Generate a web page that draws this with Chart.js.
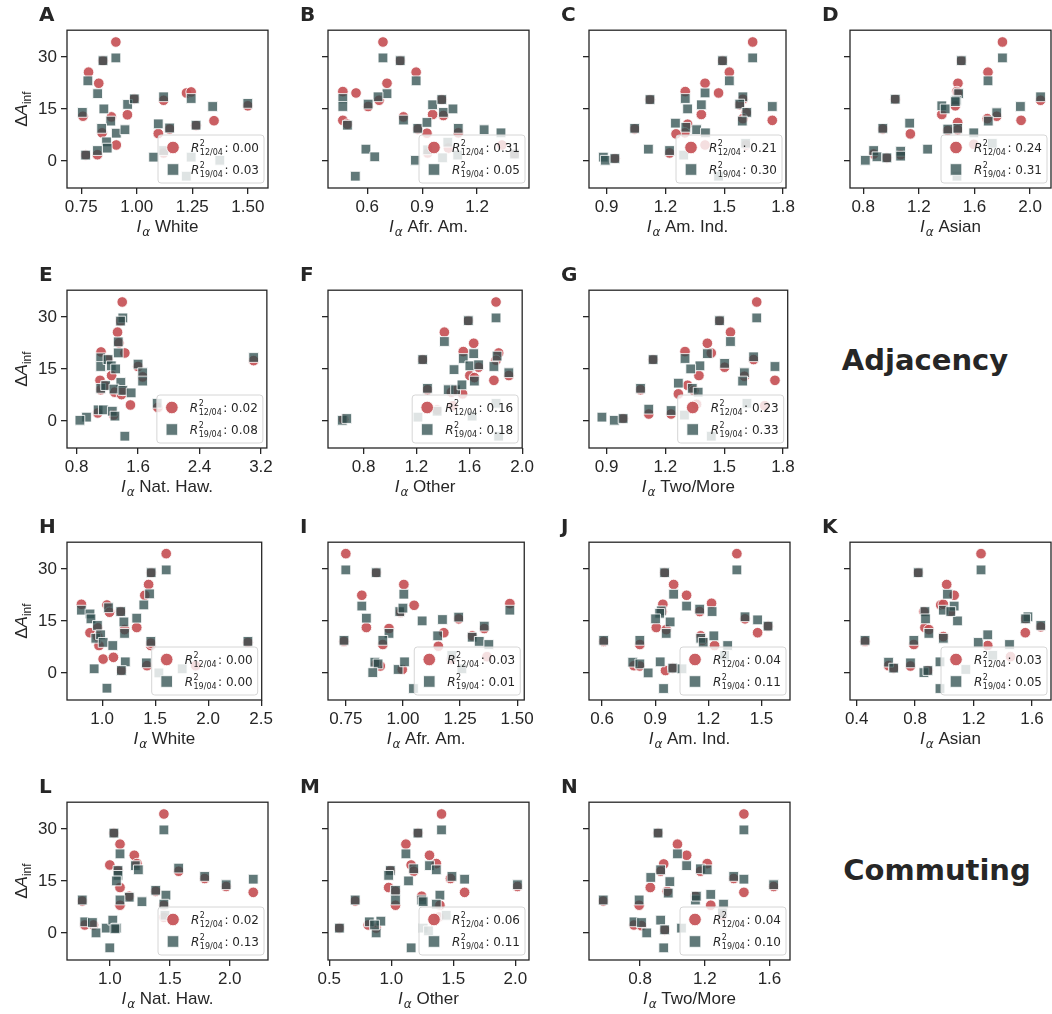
<!DOCTYPE html>
<html>
<head>
<meta charset="utf-8">
<script src="https://cdn.jsdelivr.net/npm/chart.js@4.4.1/dist/chart.umd.min.js"></script>
<style>
  body { margin: 0; width: 1052px; height: 1014px; overflow: hidden; background: #fff; position: relative; }
  canvas { position: absolute; }
  .lab { position: absolute; font: bold 20px "DejaVu Sans"; color: #262626; line-height: 20px; }
  .big { position: absolute; font: bold 29px "DejaVu Sans"; color: #262626; transform: translate(-50%, -50%); white-space: nowrap; }
</style>
</head>
<body>
<script>
// circles = 12/04, squares = 19/04, each point [I_alpha, dA_inf]
const aR = [[0.906,34.3],[0.848,28.9],[0.783,25.6],[0.829,22.4],[0.758,12.9],[0.886,12.7],[0.958,13.3],[0.908,4.6],[0.844,8.1],[0.823,1.8],[0.770,1.7],[1.097,7.9],[1.121,17.5],[1.121,2.3],[1.224,19.6],[1.245,19.9],[1.267,10.2],[1.348,11.6],[1.500,15.9],[0.989,17.9],[1.148,9.2]];
const aS = [[0.906,29.7],[0.848,28.9],[0.780,23.1],[0.824,19.4],[0.755,14.0],[0.852,15.0],[0.883,11.5],[0.959,16.3],[0.989,17.9],[0.842,9.4],[0.864,5.5],[0.867,3.7],[0.823,3.0],[0.770,1.7],[0.908,8.0],[0.947,9.0],[1.097,10.7],[1.121,18.5],[1.121,3.0],[1.076,1.1],[1.148,9.5],[1.245,18.0],[1.267,10.3],[1.342,15.7],[1.500,16.6],[1.245,1.1],[1.374,0.2],[1.223,-4.4]];

const bR = [[0.686,34.3],[0.780,28.9],[0.867,25.6],[0.708,22.4],[0.467,20.0],[0.539,19.6],[0.665,17.5],[0.605,15.7],[0.467,11.7],[0.492,10.6],[0.798,12.7],[0.876,9.2],[0.926,8.0],[0.957,13.4],[1.007,17.7],[1.016,13.1],[1.097,8.1],[0.930,2.3],[1.043,3.7],[1.335,4.6],[1.404,2.0]];
const bS = [[0.686,29.7],[0.780,28.9],[0.867,23.1],[0.708,19.4],[0.467,18.0],[0.467,15.7],[0.659,18.5],[0.605,16.4],[0.492,10.3],[0.798,11.8],[0.876,9.4],[0.926,11.1],[0.957,16.2],[1.007,17.7],[1.016,14.0],[1.068,15.0],[1.097,9.4],[1.238,9.0],[1.330,8.1],[0.593,3.4],[0.641,1.2],[0.535,-4.4],[0.863,0.2],[0.930,3.2],[1.040,5.4],[1.011,0.9],[1.094,1.7],[1.404,2.0]];

const cR = [[1.645,34.3],[1.491,28.9],[1.526,25.6],[1.402,22.4],[1.301,20.0],[1.471,19.6],[1.121,17.7],[1.595,17.8],[1.579,16.2],[1.383,13.4],[1.612,13.9],[1.595,12.2],[1.745,11.7],[1.043,9.2],[1.313,10.6],[1.299,8.1],[1.254,7.8],[1.221,2.3],[0.942,0.7],[1.402,4.6],[1.612,4.6]];
const cS = [[1.645,29.7],[1.491,28.9],[1.526,23.1],[1.402,19.6],[1.301,18.0],[1.121,17.7],[1.383,16.2],[1.595,18.5],[1.579,16.4],[1.313,15.0],[1.745,15.7],[1.615,14.0],[1.592,11.5],[1.251,10.9],[1.304,9.7],[1.359,9.0],[1.404,8.1],[1.043,9.4],[1.113,3.4],[1.221,3.0],[0.883,1.1],[0.893,0.2],[0.942,0.7],[1.293,1.7],[1.471,-4.4],[1.609,5.1]];

const dR = [[1.801,34.3],[1.505,28.9],[1.697,25.6],[1.481,22.4],[1.474,20.0],[1.479,19.6],[1.030,17.8],[2.075,17.5],[1.462,15.9],[1.365,13.4],[1.760,12.9],[1.692,12.2],[1.935,11.7],[0.941,9.2],[1.479,11.1],[1.479,9.0],[1.408,8.8],[1.139,7.8],[1.069,1.8],[0.875,2.0],[0.970,0.9],[1.595,4.8]];
const dS = [[1.801,29.7],[1.505,28.9],[1.697,23.1],[1.486,19.4],[1.469,17.5],[1.030,17.8],[2.075,18.5],[1.365,15.9],[1.389,15.0],[1.462,17.1],[1.760,13.9],[1.699,11.5],[1.930,15.7],[0.941,9.4],[1.134,10.9],[1.479,9.4],[1.408,9.2],[1.595,8.1],[1.263,3.4],[1.069,2.8],[1.069,1.4],[0.875,3.0],[0.899,1.2],[0.970,0.9],[0.815,0.2],[1.728,5.1],[1.474,-4.4]];

const eR = [[1.394,34.3],[1.372,28.8],[1.333,25.6],[1.351,22.5],[1.118,19.9],[1.428,19.6],[1.209,17.7],[1.600,15.7],[1.256,13.1],[1.660,12.7],[1.105,11.7],[1.114,9.0],[1.170,10.2],[1.295,8.3],[1.385,7.6],[1.402,8.8],[1.501,4.6],[1.075,2.3],[1.282,1.7],[3.105,17.4],[1.858,3.9]];
const eS = [[1.402,29.7],[1.372,28.8],[1.342,22.8],[1.342,19.6],[1.114,18.2],[1.114,15.7],[1.209,17.7],[1.252,15.9],[1.308,15.0],[1.600,16.4],[1.660,13.9],[1.660,11.5],[1.376,11.1],[1.114,9.4],[1.178,10.2],[1.286,9.2],[1.402,8.8],[1.510,8.1],[1.080,3.2],[1.148,3.2],[1.265,2.8],[1.299,1.4],[0.929,1.1],[0.843,0.2],[1.428,-4.4],[3.105,18.3],[1.849,5.1]];

const fR = [[1.802,34.3],[1.592,28.9],[1.411,25.6],[1.633,22.4],[1.554,20.0],[1.822,19.6],[1.247,17.7],[1.802,17.5],[1.670,15.5],[1.604,13.1],[1.638,12.5],[1.899,13.1],[1.786,11.7],[1.283,9.0],[1.464,8.3],[1.496,8.8],[1.549,7.8],[1.476,4.4],[0.648,0.5],[1.356,3.2]];
const fS = [[1.802,29.7],[1.592,28.9],[1.411,22.9],[1.633,19.4],[1.554,18.0],[1.810,18.7],[1.247,17.7],[1.604,15.9],[1.670,16.2],[1.484,14.8],[1.786,15.7],[1.899,13.9],[1.638,11.5],[1.283,9.4],[1.440,9.0],[1.496,9.0],[1.544,10.4],[0.638,0.2],[0.672,0.7],[1.211,1.1],[1.356,2.8],[1.802,5.1],[1.822,-4.4],[1.621,1.4]];

const gR = [[1.666,34.3],[1.476,28.9],[1.532,25.6],[1.414,22.4],[1.300,20.0],[1.434,19.6],[1.137,17.7],[1.650,17.7],[1.502,15.5],[1.371,13.1],[1.603,12.9],[1.759,11.7],[1.073,9.0],[1.313,10.3],[1.266,7.8],[1.345,8.8],[1.115,2.0],[1.229,2.0],[0.984,0.7],[1.359,4.8],[1.707,4.4]];
const gS = [[1.666,29.7],[1.476,28.9],[1.532,22.9],[1.414,19.4],[1.300,18.0],[1.137,17.7],[1.376,15.9],[1.502,16.6],[1.650,18.5],[1.329,15.0],[1.759,15.7],[1.603,13.9],[1.594,11.5],[1.266,10.9],[1.337,9.4],[1.367,8.3],[1.073,9.4],[1.115,3.4],[1.229,3.0],[0.876,1.1],[0.939,0.2],[0.984,0.7],[1.297,1.7],[1.434,-4.4],[1.616,5.1]];

const hR = [[1.604,34.4],[1.462,28.9],[1.438,25.5],[1.402,22.4],[0.804,19.8],[1.045,19.6],[1.069,17.5],[1.175,17.7],[1.326,13.1],[0.958,13.0],[0.885,11.6],[1.211,12.5],[0.970,7.9],[1.009,4.0],[1.106,4.5],[1.459,7.9],[1.459,8.6],[1.423,2.1],[1.181,0.7],[1.882,2.1],[2.375,8.8],[0.958,10.5]];
const hS = [[1.604,29.7],[1.462,28.9],[1.447,22.8],[1.393,19.6],[0.804,18.1],[1.060,18.8],[1.175,17.7],[0.885,17.0],[0.894,15.6],[0.955,13.7],[1.205,14.7],[1.326,15.8],[1.211,11.4],[0.940,10.0],[0.985,11.0],[1.009,8.8],[1.100,7.9],[1.459,9.1],[1.417,2.9],[1.218,3.2],[0.924,1.2],[1.181,0.7],[1.045,-4.4],[1.535,0.0],[1.755,1.2],[2.375,9.1]];

const iR = [[0.750,34.4],[0.883,28.9],[1.004,25.5],[0.820,22.4],[1.049,19.5],[0.990,17.5],[0.840,13.1],[0.939,12.8],[0.742,9.1],[0.912,8.2],[1.179,11.6],[1.155,7.7],[1.244,15.6],[1.303,10.7],[1.356,12.8],[1.368,4.7],[1.468,20.0],[0.901,2.0],[0.883,2.6],[1.211,4.0],[0.997,1.0]];
const iS = [[0.750,29.7],[0.883,28.9],[1.004,22.7],[0.820,19.3],[0.840,15.8],[0.986,17.7],[1.000,18.7],[1.084,15.0],[0.939,11.4],[0.912,9.4],[0.742,9.4],[1.173,15.4],[1.244,16.1],[1.152,10.7],[1.303,10.3],[1.334,9.1],[1.356,13.5],[1.376,8.2],[1.468,18.1],[0.877,3.1],[0.891,2.6],[0.868,0.1],[0.979,1.0],[1.007,3.2],[1.046,-4.5],[1.214,5.1],[1.258,1.2]];

const jR = [[1.361,34.4],[0.953,28.9],[1.004,25.5],[1.077,22.4],[0.943,19.8],[1.218,20.1],[0.938,17.7],[1.151,17.7],[1.407,15.6],[1.478,11.6],[0.906,13.1],[0.962,12.5],[1.157,10.7],[1.235,7.9],[0.609,9.1],[0.813,8.2],[0.780,2.1],[0.813,2.0],[0.958,0.7],[0.999,1.4],[1.537,13.5],[1.166,9.4]];
const jS = [[1.361,29.7],[0.953,28.9],[1.004,22.7],[1.077,19.3],[0.934,17.9],[0.925,17.2],[1.151,18.4],[1.221,17.7],[1.407,16.2],[1.478,15.3],[0.902,15.6],[0.984,14.7],[0.962,11.4],[0.609,9.4],[0.813,9.4],[1.157,10.0],[1.171,8.8],[1.231,10.7],[1.309,7.9],[1.537,13.5],[0.773,3.1],[0.813,2.6],[0.860,0.0],[0.928,3.2],[0.947,-4.5],[0.999,1.4],[1.051,1.2],[1.292,5.1]];

const kR = [[1.251,34.4],[0.821,28.9],[1.016,25.5],[1.067,22.4],[0.975,19.6],[0.993,19.8],[0.860,17.7],[1.044,17.7],[1.556,15.6],[1.554,11.6],[0.867,13.1],[0.894,12.5],[0.993,10.5],[1.297,7.9],[0.457,9.1],[0.791,8.2],[0.618,2.1],[0.653,1.4],[0.768,2.0],[0.887,0.7],[1.660,13.3],[1.453,4.7]];
const kS = [[1.251,29.7],[0.821,28.9],[1.021,22.7],[1.067,19.3],[0.993,18.1],[0.867,17.7],[0.871,15.6],[1.090,15.0],[1.044,17.7],[1.572,16.2],[1.556,15.6],[1.660,13.7],[0.894,11.4],[0.993,10.0],[0.791,9.4],[0.457,9.4],[1.232,8.8],[1.297,11.0],[1.446,8.2],[0.618,3.1],[0.653,1.4],[0.768,2.9],[0.860,0.1],[0.887,0.7],[0.970,3.2],[0.970,-4.5],[1.331,5.1],[1.147,1.0]];

const lR = [[1.451,34.3],[1.034,28.8],[1.085,25.6],[1.204,22.4],[1.000,19.6],[1.226,20.0],[1.068,18.0],[1.574,17.8],[1.791,15.7],[2.196,11.7],[1.085,13.1],[1.162,10.6],[1.383,12.0],[1.970,13.4],[1.451,8.0],[0.770,9.2],[1.085,8.0],[0.791,2.3],[0.864,2.3],[1.043,1.2],[1.451,4.5]];
const lS = [[1.451,29.7],[1.034,28.8],[1.085,22.8],[1.213,19.4],[1.238,18.2],[1.068,18.0],[1.068,16.6],[1.055,15.0],[1.574,18.7],[1.791,16.3],[2.196,15.5],[1.970,13.9],[1.383,12.3],[1.268,9.0],[1.162,10.3],[1.085,9.5],[0.770,9.5],[1.468,10.9],[1.451,8.3],[0.791,3.2],[0.855,3.0],[0.885,0.0],[0.970,1.4],[1.025,3.7],[1.055,1.4],[1.000,-4.3],[1.043,1.2],[1.460,5.1]];

const mR = [[1.405,34.3],[1.215,28.8],[1.118,25.6],[1.308,22.4],[1.160,19.6],[1.363,20.0],[0.992,18.0],[1.181,17.8],[1.477,15.7],[1.591,11.7],[0.979,13.1],[1.034,12.0],[1.245,10.6],[0.709,9.2],[1.034,8.0],[1.392,8.0],[0.814,2.3],[0.582,1.4],[0.878,1.4],[2.017,13.4],[1.384,4.6]];
const mS = [[1.405,29.7],[1.215,28.8],[1.118,22.8],[1.308,19.4],[1.181,18.5],[0.992,18.0],[0.979,16.6],[1.139,15.0],[1.363,18.2],[1.489,16.3],[1.591,15.5],[2.017,13.9],[1.034,12.3],[1.245,9.5],[1.257,9.0],[1.034,9.5],[0.709,9.5],[1.392,10.9],[1.363,8.3],[0.823,3.2],[0.916,3.4],[0.878,0.0],[0.865,2.3],[0.582,1.4],[1.257,1.4],[1.300,0.6],[1.160,-4.3],[1.443,5.1]];

const nR = [[1.442,34.3],[0.911,28.8],[1.031,25.6],[1.088,22.4],[0.946,19.9],[1.215,20.0],[0.927,17.8],[1.173,17.8],[1.379,15.7],[1.442,11.7],[0.863,13.1],[0.968,12.0],[1.142,10.6],[1.237,8.0],[0.572,9.2],[0.794,8.0],[0.762,2.3],[0.809,2.1],[0.952,0.9],[1.626,13.4],[1.309,5.1]];
const nS = [[1.442,29.7],[0.911,28.8],[1.031,22.8],[1.088,19.4],[0.927,18.2],[1.173,18.5],[1.215,18.2],[0.866,16.0],[0.984,14.8],[1.379,16.3],[1.442,15.5],[1.626,13.9],[0.974,11.5],[1.142,9.5],[1.148,10.6],[1.237,11.1],[1.316,8.3],[0.794,9.5],[0.572,9.5],[0.762,3.2],[0.809,3.0],[0.841,0.0],[0.927,3.7],[0.946,-4.3],[0.952,0.9],[1.056,1.4],[1.309,5.8]];

const yTicks = [0, 15, 30];

const panels = [
  { id: 'A', name: 'White',     r: aR, s: aS, min: 0.686, max: 1.591, ticks: [0.75, 1.00, 1.25, 1.50], dec: 2, r2: ['0.00', '0.03'] },
  { id: 'B', name: 'Afr. Am.',  r: bR, s: bS, min: 0.386, max: 1.483, ticks: [0.6, 0.9, 1.2], dec: 1, r2: ['0.31', '0.05'] },
  { id: 'C', name: 'Am. Ind.',  r: cR, s: cS, min: 0.81,  max: 1.815, ticks: [0.9, 1.2, 1.5, 1.8], dec: 1, r2: ['0.21', '0.30'] },
  { id: 'D', name: 'Asian',     r: dR, s: dS, min: 0.705, max: 2.15,  ticks: [0.8, 1.2, 1.6, 2.0], dec: 1, r2: ['0.24', '0.31'] },
  { id: 'E', name: 'Nat. Haw.', r: eR, s: eS, min: 0.675, max: 3.277, ticks: [0.8, 1.6, 2.4, 3.2], dec: 1, r2: ['0.02', '0.08'] },
  { id: 'F', name: 'Other',     r: fR, s: fS, min: 0.53,  max: 2.0,   ticks: [0.8, 1.2, 1.6, 2.0], dec: 1, r2: ['0.16', '0.18'] },
  { id: 'G', name: 'Two/More',  r: gR, s: gS, min: 0.81,  max: 1.824, ticks: [0.9, 1.2, 1.5, 1.8], dec: 1, r2: ['0.23', '0.33'] },
  { id: 'H', name: 'White',     r: hR, s: hS, min: 0.668, max: 2.505, ticks: [1.0, 1.5, 2.0, 2.5], dec: 1, r2: ['0.00', '0.00'] },
  { id: 'I', name: 'Afr. Am.',  r: iR, s: iS, min: 0.672, max: 1.531, ticks: [0.75, 1.00, 1.25, 1.50], dec: 2, r2: ['0.03', '0.01'] },
  { id: 'J', name: 'Am. Ind.',  r: jR, s: jS, min: 0.526, max: 1.661, ticks: [0.6, 0.9, 1.2, 1.5], dec: 1, r2: ['0.04', '0.11'] },
  { id: 'K', name: 'Asian',     r: kR, s: kS, min: 0.354, max: 1.73,  ticks: [0.4, 0.8, 1.2, 1.6], dec: 1, r2: ['0.03', '0.05'] },
  { id: 'L', name: 'Nat. Haw.', r: lR, s: lS, min: 0.643, max: 2.319, ticks: [1.0, 1.5, 2.0], dec: 1, r2: ['0.02', '0.13'] },
  { id: 'M', name: 'Other',     r: mR, s: mS, min: 0.49,  max: 2.11,  ticks: [0.5, 1.0, 1.5, 2.0], dec: 1, r2: ['0.06', '0.11'] },
  { id: 'N', name: 'Two/More',  r: nR, s: nS, min: 0.484, max: 1.727, ticks: [0.8, 1.2, 1.6], dec: 1, r2: ['0.04', '0.10'] }
];

// grid placement of the panels (row, col)
const place = [[0,0],[0,1],[0,2],[0,3],[1,0],[1,1],[1,2],[2,0],[2,1],[2,2],[2,3],[3,0],[3,1],[3,2]];
const colLeft = [67, 328, 589, 850];
const rowTop = [24, 284, 536, 796];
const boxW = 201, boxH = 164;
const padT = 8, padR = 8, yW = 64, xH = 56;

const ink = '#262626';
const redFill = 'rgba(196,78,82,0.9)';
const greyFill = 'rgba(47,79,79,0.76)';
const edge = 'rgba(255,255,255,0.85)';
const tickFont = '"Liberation Sans", Arial, sans-serif';
const mathFont = '"DejaVu Sans", sans-serif';

function toXY(arr) {
  return arr.map(p => ({ x: p[0], y: p[1] }));
}

function drawMarker(ctx, type, x, y) {
  ctx.save();
  ctx.lineWidth = 1;
  ctx.strokeStyle = edge;
  if (type === 'circle') {
    ctx.fillStyle = redFill;
    ctx.beginPath();
    ctx.arc(x, y, 6.3, 0, Math.PI * 2);
    ctx.fill();
    ctx.stroke();
  } else {
    ctx.fillStyle = greyFill;
    ctx.fillRect(x - 5.8, y - 5.8, 11.6, 11.6);
    ctx.strokeRect(x - 5.8, y - 5.8, 11.6, 11.6);
  }
  ctx.restore();
}

function drawR2(ctx, x, y, sub, val) {
  ctx.fillStyle = ink;
  ctx.textBaseline = 'alphabetic';
  ctx.textAlign = 'left';
  ctx.font = 'italic 12px ' + mathFont;
  ctx.fillText('R', x, y);
  const w = ctx.measureText('R').width;
  ctx.font = '8px ' + mathFont;
  ctx.fillText('2', x + w + 0.5, y - 5.5);
  ctx.fillText(sub, x + w + 0.5, y + 3);
  const sw = ctx.measureText(sub).width;
  ctx.font = '12px ' + mathFont;
  ctx.fillText(': ' + val, x + w + sw + 2, y);
}

const decorPlugin = {
  id: 'decor',
  afterDatasetsDraw(chart, args, opts) {
    const ctx = chart.ctx;
    const a = chart.chartArea;
    // legend box
    const lw = 106, lh = 48;
    const lx = a.right - 4 - lw, ly = a.bottom - 5 - lh;
    ctx.save();
    ctx.beginPath();
    ctx.roundRect(lx, ly, lw, lh, 3);
    ctx.fillStyle = 'rgba(255,255,255,0.8)';
    ctx.fill();
    ctx.strokeStyle = '#d6d6d6';
    ctx.lineWidth = 1;
    ctx.stroke();
    drawMarker(ctx, 'circle', lx + 15, ly + 12.5);
    drawMarker(ctx, 'rect', lx + 15, ly + 34.5);
    drawR2(ctx, lx + 33, ly + 16.5, '12/04', opts.r2[0]);
    drawR2(ctx, lx + 33, ly + 38.5, '19/04', opts.r2[1]);
    ctx.restore();
  },
  afterDraw(chart, args, opts) {
    const ctx = chart.ctx;
    const a = chart.chartArea;
    ctx.save();
    ctx.strokeStyle = ink;
    ctx.lineWidth = 1.3;
    ctx.strokeRect(a.left, a.top, a.right - a.left, a.bottom - a.top);

    // x label: I_alpha <name>
    ctx.fillStyle = ink;
    ctx.textBaseline = 'alphabetic';
    ctx.textAlign = 'left';
    ctx.font = 'italic 17px ' + tickFont;
    const wI = ctx.measureText('I').width;
    ctx.font = 'italic 12px ' + mathFont;
    const wA = ctx.measureText('α').width;
    ctx.font = '17px ' + tickFont;
    const wN = ctx.measureText(' ' + opts.name).width;
    let x = (a.left + a.right) / 2 - (wI + wA + 1 + wN) / 2;
    const y = a.bottom + 44;
    ctx.font = 'italic 17px ' + tickFont;
    ctx.fillText('I', x, y);
    x += wI + 1;
    ctx.font = 'italic 12px ' + mathFont;
    ctx.fillText('α', x, y + 4);
    x += wA;
    ctx.font = '17px ' + tickFont;
    ctx.fillText(' ' + opts.name, x, y);

    // y label on the first column
    if (opts.first) {
      ctx.translate(24, (a.top + a.bottom) / 2);
      ctx.rotate(-Math.PI / 2);
      ctx.font = '17px ' + tickFont;
      const w1 = ctx.measureText('Δ').width;
      ctx.font = 'italic 17px ' + tickFont;
      const w2 = ctx.measureText('A').width;
      ctx.font = '12px ' + tickFont;
      const w3 = ctx.measureText('inf').width;
      let yx = -(w1 + w2 + w3) / 2;
      ctx.font = '17px ' + tickFont;
      ctx.fillText('Δ', yx, 0);
      yx += w1;
      ctx.font = 'italic 17px ' + tickFont;
      ctx.fillText('A', yx, 0);
      yx += w2;
      ctx.font = '12px ' + tickFont;
      ctx.fillText('inf', yx, 4);
    }
    ctx.restore();
  }
};

panels.forEach((p, k) => {
  const row = place[k][0], col = place[k][1];
  const cv = document.createElement('canvas');
  cv.width = yW + boxW + padR;
  cv.height = padT + boxH + xH;
  cv.style.left = (colLeft[col] - yW) + 'px';
  cv.style.top = (rowTop[row] - padT) + 'px';
  document.body.appendChild(cv);

  const lab = document.createElement('div');
  lab.className = 'lab';
  lab.textContent = p.id;
  lab.style.left = (colLeft[col] - 28) + 'px';
  lab.style.top = (rowTop[row] - 20) + 'px';
  document.body.appendChild(lab);

  new Chart(cv, {
    type: 'scatter',
    data: {
      datasets: [{
        label: '19/04',
        data: toXY(p.s),
        pointStyle: 'rect',
        pointRadius: 6.9,
        backgroundColor: greyFill,
        borderColor: edge,
        borderWidth: 1
      }, {
        label: '12/04',
        data: toXY(p.r),
        pointStyle: 'circle',
        pointRadius: 5.3,
        backgroundColor: redFill,
        borderColor: edge,
        borderWidth: 1
      }]
    },
    options: {
      responsive: false,
      animation: false,
      devicePixelRatio: 1,
      events: [],
      layout: { padding: { top: padT, right: padR, left: 0, bottom: 0 } },
      scales: {
        x: {
          type: 'linear',
          min: p.min,
          max: p.max,
          afterBuildTicks: s => { s.ticks = p.ticks.map(v => ({ value: v })); },
          afterFit: s => { s.height = xH; },
          border: { display: false },
          grid: { drawOnChartArea: false, drawTicks: true, tickLength: 6, color: ink, lineWidth: 1.3 },
          ticks: {
            autoSkip: false, maxRotation: 0, padding: 3, color: ink,
            font: { family: tickFont, size: 17 },
            callback: v => Number(v).toFixed(p.dec)
          }
        },
        y: {
          type: 'linear',
          min: -7.8,
          max: 37.7,
          afterBuildTicks: s => { s.ticks = yTicks.map(v => ({ value: v })); },
          afterFit: s => { s.width = yW; },
          border: { display: false },
          grid: { drawOnChartArea: false, drawTicks: true, tickLength: 6, color: ink, lineWidth: 1.3 },
          ticks: {
            padding: 4, color: ink,
            font: { family: tickFont, size: 17 },
            callback: v => (col === 0 ? String(v) : '')
          }
        }
      },
      plugins: {
        legend: { display: false },
        tooltip: { enabled: false },
        decor: { name: p.name, r2: p.r2, first: col === 0 }
      }
    },
    plugins: [decorPlugin]
  });
});

const words = [['Adjacency', 925, 360], ['Commuting', 937, 870]];
words.forEach(w => {
  const d = document.createElement('div');
  d.className = 'big';
  d.textContent = w[0];
  d.style.left = w[1] + 'px';
  d.style.top = w[2] + 'px';
  document.body.appendChild(d);
});
</script>
</body>
</html>
